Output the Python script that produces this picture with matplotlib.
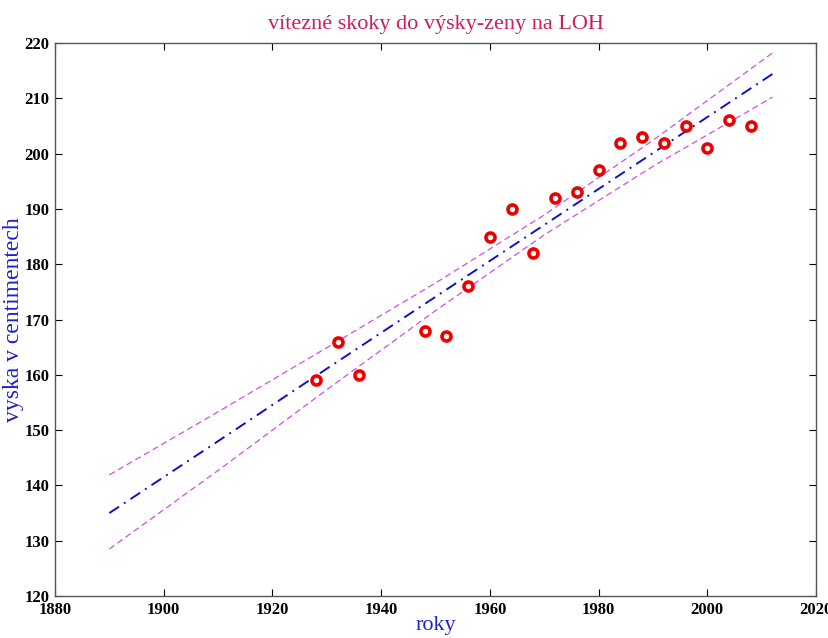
import numpy as np
import matplotlib.pyplot as plt

# vitezne vysky (rok, cm)
roky = [1928, 1932, 1936, 1948, 1952, 1956, 1960, 1964, 1968, 1972,
        1976, 1980, 1984, 1988, 1992, 1996, 2000, 2004, 2008]
vysky = [159, 166, 160, 168, 167, 176, 185, 190, 182, 192,
         193, 197, 202, 203, 202, 205, 201, 206, 205]

# primka a pasy
x_fit = [1890, 1910, 1930, 1950, 1970, 1990, 2012]
y_fit = [135.0, 148.0, 161.1, 174.1, 187.1, 200.1, 214.4]
y_horni = [141.9, 153.3, 164.9, 176.6, 188.9, 202.4, 218.2]
y_dolni = [128.5, 142.7, 157.3, 171.6, 185.3, 197.7, 210.2]

plt.rcParams['font.family'] = ['Liberation Serif', 'DejaVu Serif']

fig = plt.figure(figsize=(8.29, 6.38), dpi=100)
ax = fig.add_axes([0.0663, 0.0658, 0.918, 0.8668])

ax.plot(x_fit, y_horni, '--', color='#d050e0', linewidth=0.9, dashes=(5, 3))
ax.plot(x_fit, y_dolni, '--', color='#d050e0', linewidth=0.9, dashes=(5, 3))
ax.plot(x_fit, y_fit, '-.', color='#1010c8', linewidth=1.4, dashes=(6, 3, 1, 3))
ax.plot(roky, vysky, 'o', markerfacecolor='white', markeredgecolor='#ee0000',
        markersize=6.5, markeredgewidth=2.6, linestyle='none')

ax.set_xlim(1880, 2020)
ax.set_ylim(120, 220)
ax.set_xticks(np.arange(1880, 2021, 20))
ax.set_yticks(np.arange(120, 221, 10))
ax.tick_params(direction='in', top=True, right=True, length=5, labelsize=12, pad=4)
for lab in ax.get_xticklabels() + ax.get_yticklabels():
    lab.set_fontweight('bold')
for s in ax.spines.values():
    s.set_color('#555555')
    s.set_linewidth(1.0)

ax.set_title('vítezné skoky do výsky-zeny na LOH', color='#cc1f5c', fontsize=16, pad=10)
ax.set_xlabel('roky', color='#2020d0', fontsize=16, labelpad=-1)
ax.set_ylabel('vyska v centimentech', color='#2020d0', fontsize=17, labelpad=0)

fig.savefig('out.png', dpi=100)
